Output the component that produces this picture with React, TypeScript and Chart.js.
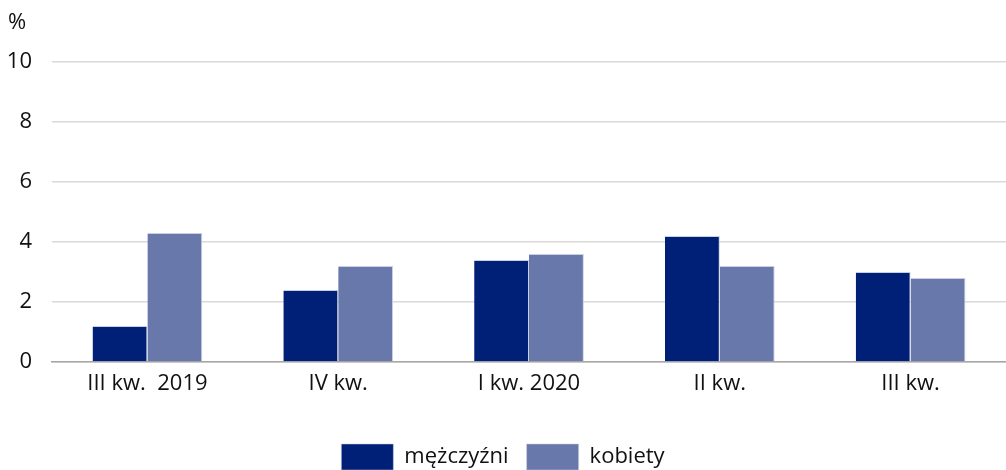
import React, { useEffect, useRef } from "react";
import { Chart, registerables } from "chart.js";

Chart.register(...registerables);

const categories = ["III kw.  2019", "IV kw.", "I kw. 2020", "II kw.", "III kw."];
const men = [1.2, 2.4, 3.4, 4.2, 3.0];
const women = [4.3, 3.2, 3.6, 3.2, 2.8];
const yTicks = [0, 2, 4, 6, 8, 10];
const unitLabel = "%";
const seriesNames = ["mężczyźni", "kobiety"];

const FONT = "'Open Sans', 'Noto Sans', sans-serif";
const FS = 22;

const unitPlugin = {
  id: "unitLabel",
  afterDraw(chart: any) {
    const ctx = chart.ctx;
    ctx.save();
    ctx.font = `${FS}px ${FONT}`;
    ctx.fillStyle = "#111";
    ctx.textAlign = "left";
    ctx.textBaseline = "middle";
    ctx.fillText(unitLabel, 8, 23);
    ctx.restore();
  },
};

export default function App() {
  const ref = useRef<HTMLCanvasElement>(null);
  useEffect(() => {
    document.body.style.margin = "0";
    const chart = new Chart(ref.current!, {
      type: "bar",
      data: {
        labels: categories,
        datasets: [
          {
            label: seriesNames[0],
            data: men,
            backgroundColor: "#001f77",
            borderColor: "#c9cfe3",
            borderWidth: { top: 1, right: 1, left: 0, bottom: 0 },
            categoryPercentage: 0.575,
            barPercentage: 1,
          },
          {
            label: seriesNames[1],
            data: women,
            backgroundColor: "#6878ab",
            borderColor: "#c9cfe3",
            borderWidth: { top: 1, right: 1, left: 0, bottom: 0 },
            categoryPercentage: 0.575,
            barPercentage: 1,
          },
        ],
      },
      options: {
        animation: false,
        responsive: false,
        maintainAspectRatio: false,
        layout: { padding: { top: 62, left: 0, right: 0, bottom: -10 } },
        plugins: {
          legend: {
            position: "bottom",
            labels: {
              boxWidth: 52,
              boxHeight: 26,
              padding: 18,
              color: "#111",
              font: { family: FONT, size: FS },
            },
          },
          tooltip: { enabled: false },
        },
        scales: {
          x: {
            grid: { display: false, drawTicks: false },
            border: { display: true, color: "#a6a6a6", width: 1.5 },
            ticks: {
              color: "#111",
              font: { family: FONT, size: FS },
              padding: 9,
              maxRotation: 0,
            },
            afterFit(scale: any) {
              scale.height = 64;
            },
          },
          y: {
            min: 0,
            max: 10,
            afterBuildTicks(scale: any) {
              scale.ticks = yTicks.map((v) => ({ value: v }));
            },
            afterFit(scale: any) {
              scale.width = 52;
            },
            grid: { color: "#d9d9d9", lineWidth: 1.5, drawTicks: false },
            border: { display: false },
            ticks: {
              color: "#111",
              font: { family: FONT, size: FS },
              padding: 20,
            },
          },
        },
      },
      plugins: [unitPlugin],
    });
    return () => chart.destroy();
  }, []);
  return (
    <div style={{ width: 1006, height: 470 }}>
      <canvas ref={ref} width={1006} height={470} />
    </div>
  );
}
